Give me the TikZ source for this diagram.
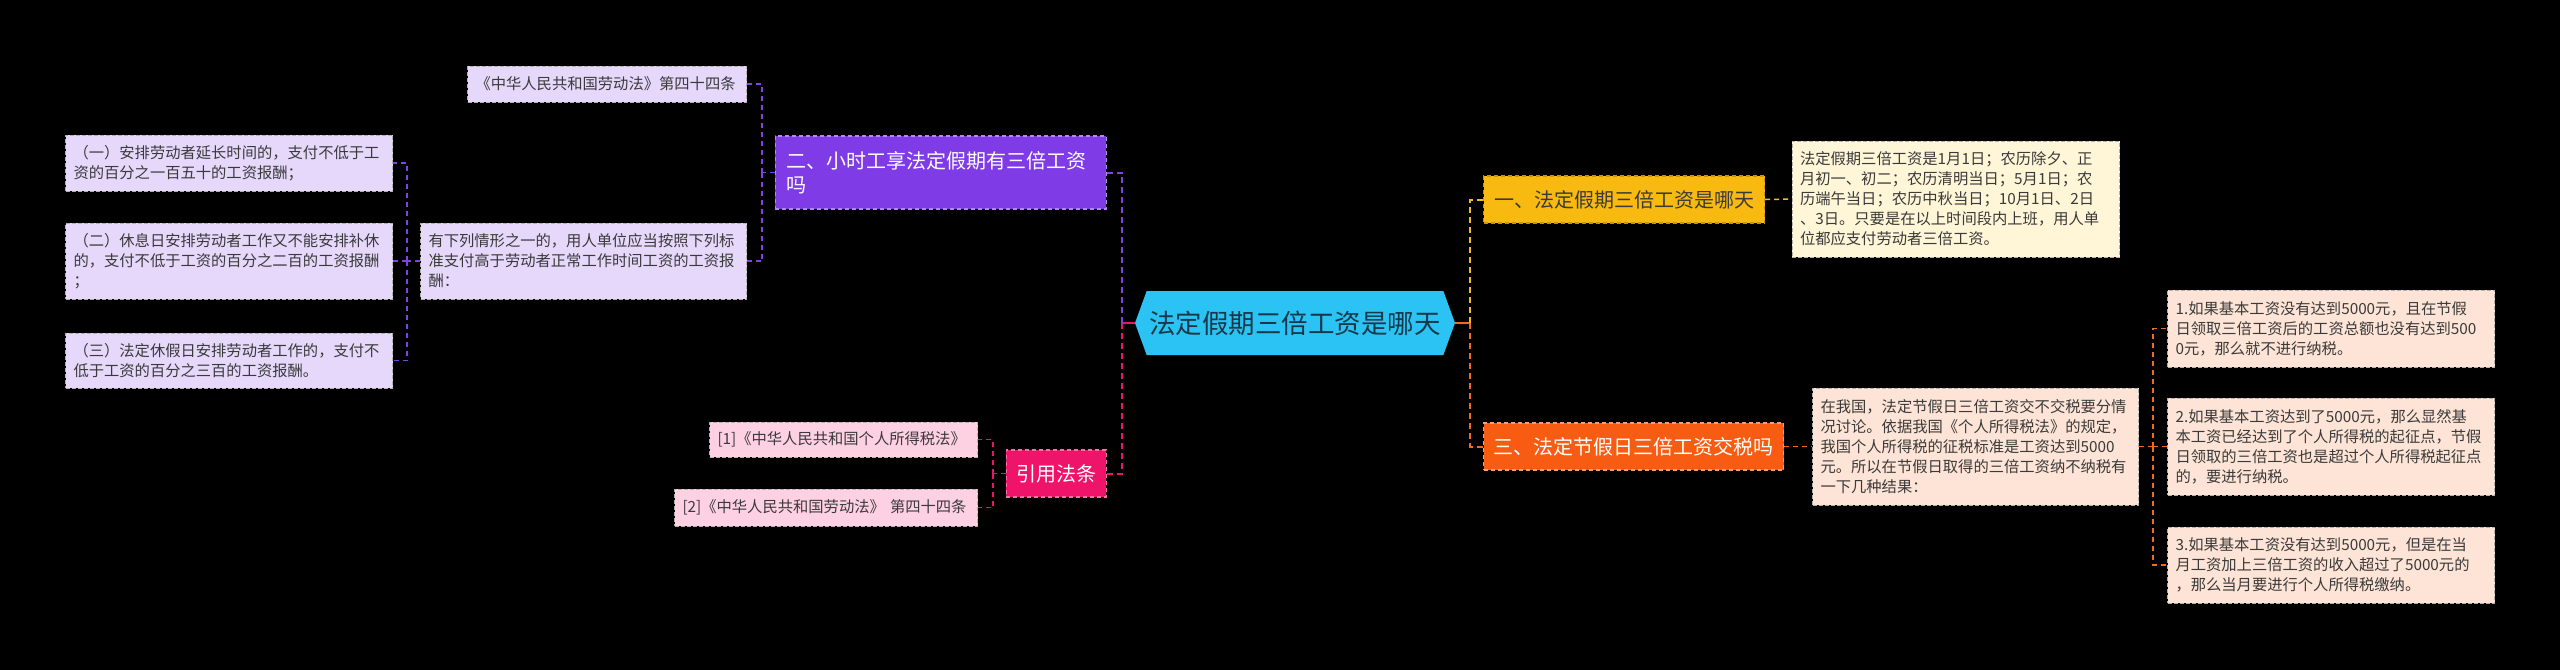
\documentclass[tikz,border=0pt]{standalone}
\usepackage{fontspec}
\newfontfamily\cjk{Noto Sans CJK SC}
\usetikzlibrary{shapes.symbols}

\definecolor{rootblue}{HTML}{2BC3F3}
\definecolor{roottext}{HTML}{16384A}
\definecolor{yel}{HTML}{F8B910}
\definecolor{yelline}{HTML}{F4BA20}
\definecolor{yelleaf}{HTML}{FFF5D7}
\definecolor{ora}{HTML}{F85C12}
\definecolor{oraline}{HTML}{F06A20}
\definecolor{oraleaf}{HTML}{FDE4D6}
\definecolor{pur}{HTML}{7F3BE6}
\definecolor{purline}{HTML}{8042E2}
\definecolor{purleaf}{HTML}{E5D8FB}
\definecolor{pnk}{HTML}{F0136A}
\definecolor{pnkline}{HTML}{E8146E}
\definecolor{pnkleaf}{HTML}{FDD0E2}
\definecolor{leaftext}{HTML}{3A3A3A}
\definecolor{leafedge}{HTML}{B4B0AC}

\begin{document}
\begin{tikzpicture}[x=1pt,y=-1pt]
	\tikzstyle{Topic} = [shape=signal, signal to=west and east, signal pointer angle=140, fill=rootblue, text=roottext, minimum width=320pt, minimum height=64pt, inner sep=0pt, font=\cjk\fontsize{26.5pt}{30pt}\selectfont]
	\tikzstyle{Branch} = [draw, dash pattern=on 4pt off 3pt, line width=1.2pt, inner xsep=10pt, inner ysep=0pt, text=white, minimum height=47pt, font=\cjk\fontsize{20pt}{24pt}\selectfont]
	\tikzstyle{Leaf} = [draw=leafedge, dash pattern=on 4pt off 2pt, line width=1pt, inner xsep=8pt, inner ysep=0pt, align=left, text=leaftext, font=\cjk\fontsize{15.3pt}{20pt}\selectfont]
	\tikzstyle{Link} = [line width=2pt, dash pattern=on 6pt off 4pt]
	\tikzstyle{SubLink} = [line width=1.5pt, dash pattern=on 5pt off 4pt]

	% background and page size
	\fill [black] (0,0) rectangle (2560,670);
	\useasboundingbox (0,0) rectangle (2560,670);

	% centre
	\node (root) at (1295,323) [Topic] {法定假期三倍工资是哪天};
	\coordinate (jl) at (1122,323);
	\coordinate (jr) at (1470,323);

	% right side
	\node (b1) at (1483,199.5) [Branch, anchor=west, fill=yel, draw=yel!80!black, text=leaftext, minimum width=281pt] {一、法定假期三倍工资是哪天};
	\node (d1) at (1791.5,199) [Leaf, anchor=west, fill=yelleaf, text width=311.5pt, minimum height=116pt] {法定假期三倍工资是1月1日；农历除夕、正\\月初一、初二；农历清明当日；5月1日；农\\历端午当日；农历中秋当日；10月1日、2日\\、3日。只要是在以上时间段内上班，用人单\\位都应支付劳动者三倍工资。};
	\node (b3) at (1483,446.5) [Branch, anchor=west, fill=ora, draw=ora!60!white, minimum width=300pt] {三、法定节假日三倍工资交税吗};
	\node (d3) at (1812,446.5) [Leaf, anchor=west, fill=oraleaf, text width=310pt, minimum height=117pt] {在我国，法定节假日三倍工资交不交税要分情\\况讨论。依据我国《个人所得税法》的规定，\\我国个人所得税的征税标准是工资达到5000\\元。所以在节假日取得的三倍工资纳不纳税有\\一下几种结果：};
	\coordinate (j3) at (2153,446.5);
	\node (e1) at (2167,328.5) [Leaf, anchor=west, fill=oraleaf, text width=311pt, minimum height=77pt] {1.如果基本工资没有达到5000元，且在节假\\日领取三倍工资后的工资总额也没有达到500\\0元，那么就不进行纳税。};
	\node (e2) at (2167,446.5) [Leaf, anchor=west, fill=oraleaf, text width=311pt, minimum height=97pt] {2.如果基本工资达到了5000元，那么显然基\\本工资已经达到了个人所得税的起征点，节假\\日领取的三倍工资也是超过个人所得税起征点\\的，要进行纳税。};
	\node (e3) at (2167,565) [Leaf, anchor=west, fill=oraleaf, text width=311pt, minimum height=76pt] {3.如果基本工资没有达到5000元，但是在当\\月工资加上三倍工资的收入超过了5000元的\\，那么当月要进行个人所得税缴纳。};

	% left side
	\node (b2) at (1107,172.5) [Branch, anchor=east, fill=pur, draw=pur!60!white, align=left, inner xsep=11pt, text width=309pt, minimum height=73pt] {二、小时工享法定假期有三倍工资\\吗};
	\coordinate (j2) at (762,172.5);
	\node (a1) at (747,84) [Leaf, anchor=east, fill=purleaf, text width=263pt, minimum height=36pt] {《中华人民共和国劳动法》第四十四条};
	\node (a2) at (747,261) [Leaf, anchor=east, fill=purleaf, text width=310pt, minimum height=76pt] {有下列情形之一的，用人单位应当按照下列标\\准支付高于劳动者正常工作时间工资的工资报\\酬：};
	\coordinate (j4) at (407,261);
	\node (c1) at (393,163) [Leaf, anchor=east, fill=purleaf, text width=311pt, minimum height=56pt] {（一）安排劳动者延长时间的，支付不低于工\\资的百分之一百五十的工资报酬；};
	\node (c2) at (393,261) [Leaf, anchor=east, fill=purleaf, text width=311pt, minimum height=76pt] {（二）休息日安排劳动者工作又不能安排补休\\的，支付不低于工资的百分之二百的工资报酬\\；};
	\node (c3) at (393,360.5) [Leaf, anchor=east, fill=purleaf, text width=311pt, minimum height=55pt] {（三）法定休假日安排劳动者工作的，支付不\\低于工资的百分之三百的工资报酬。};

	\node (b4) at (1107,473.5) [Branch, anchor=east, fill=pnk, draw=pnk!60!white, minimum width=100pt] {引用法条};
	\coordinate (j5) at (993,473.5);
	\node (r1) at (978,439.5) [Leaf, anchor=east, fill=pnkleaf, text width=252pt, minimum height=35pt] {[1]《中华人民共和国个人所得税法》};
	\node (r2) at (978,507.5) [Leaf, anchor=east, fill=pnkleaf, text width=287pt, minimum height=37pt] {[2]《中华人民共和国劳动法》 第四十四条};

	% connectors
	\draw [line width=2pt, pnkline] (root.west) to (jl);
	\draw [line width=2pt, oraline] (root.east) to (jr);
	\draw [Link, purline] (jl) |- (b2.east);
	\draw [Link, pnkline] (jl) |- (b4.east);
	\draw [Link, yelline] (jr) |- (b1.west);
	\draw [Link, oraline] (jr) |- (b3.west);

	\draw [SubLink, yelline] (b1.east) to (d1.west);
	\draw [SubLink, oraline] (b3.east) to (d3.west);
	\draw [SubLink, oraline] (d3.east) to (j3);
	\draw [SubLink, oraline] (j3) |- (e1.west);
	\draw [SubLink, oraline] (j3) |- (e2.west);
	\draw [SubLink, oraline] (j3) |- (e3.west);

	\draw [SubLink, purline] (b2.west) to (j2);
	\draw [SubLink, purline] (j2) |- (a1.east);
	\draw [SubLink, purline] (j2) |- (a2.east);
	\draw [SubLink, purline] (a2.west) to (j4);
	\draw [SubLink, purline] (j4) |- (c1.east);
	\draw [SubLink, purline] (j4) |- (c2.east);
	\draw [SubLink, purline] (j4) |- (c3.east);

	\draw [SubLink, pnkline] (b4.west) to (j5);
	\draw [SubLink, pnkline] (j5) |- (r1.east);
	\draw [SubLink, pnkline] (j5) |- (r2.east);
\end{tikzpicture}
\end{document}
